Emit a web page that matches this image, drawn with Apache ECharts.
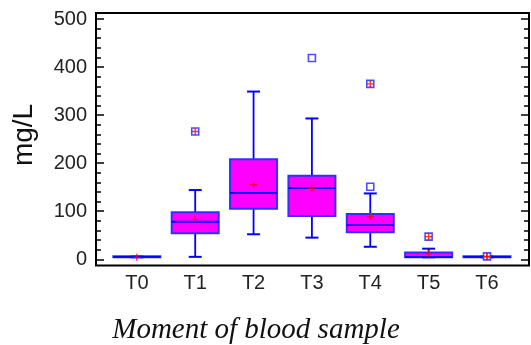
<!DOCTYPE html>
<html>
<head>
<meta charset="utf-8">
<script src="https://cdn.jsdelivr.net/npm/echarts@6/dist/echarts.min.js"></script>
<style>
  html, body { margin: 0; padding: 0; background: #fff; }
  #chart { width: 531px; height: 345px; }
</style>
</head>
<body>
<div id="chart"></div>
<script>
// box-and-whisker values (mg/L)
const categories = ["T0", "T1", "T2", "T3", "T4", "T5", "T6"];
const whiskerLow = [4, 5, 52, 45, 26, 4, 4];
const q1 = [4, 54, 105, 90, 56, 4, 4];
const median = [5, 78, 138, 148, 71, 5, 5];
const q3 = [6, 98, 208, 174, 94, 14, 6];
const whiskerHigh = [6, 144, 349, 293, 137, 22, 6];
const means = [4, 83, 155, 147, 89, 12, 5];

// outliers: category index, value, far outside (plus inside square)
const outlierCat = [1, 3, 4, 4, 5, 6];
const outlierVal = [266, 419, 365, 151, 47, 6];
const outlierFar = [true, false, true, false, true, true];

const yMajorTicks = [0, 100, 200, 300, 400, 500];
const yMinorTicks = [0, 20, 40, 60, 80, 100, 120, 140, 160, 180, 200, 220, 240, 260, 280,
  300, 320, 340, 360, 380, 400, 420, 440, 460, 480, 500];

const BLUE = "#0000ff";
const PLUS = "path://M4,0H6V4H10V6H6V10H4V6H0V4H4Z";

const chart = echarts.init(document.getElementById("chart"));

function yAxisCfg(pos, ticks, len, labels) {
  return {
    type: "value",
    position: pos,
    min: -13,
    max: 512.5,
    axisLine: { show: false, onZero: false },
    splitLine: { show: false },
    axisTick: {
      show: true, inside: true, length: len, customValues: ticks,
      lineStyle: { color: "#000", width: 1.5 }
    },
    axisLabel: labels
      ? { show: true, customValues: yMajorTicks, margin: 9, color: "#222",
          fontFamily: "Liberation Sans", fontSize: 20 }
      : { show: false }
  };
}

const boxData = categories.map((c, i) => [i, whiskerLow[i], q1[i], median[i], q3[i], whiskerHigh[i]]);

function renderBox(params, api) {
  const i = api.value(0);
  const half = 23.5, cap = 6.5;
  const pLow = api.coord([i, api.value(1)]);
  const pQ1 = api.coord([i, api.value(2)]);
  const pMed = api.coord([i, api.value(3)]);
  const pQ3 = api.coord([i, api.value(4)]);
  const pHigh = api.coord([i, api.value(5)]);
  const x = pMed[0];
  const line = { stroke: BLUE, lineWidth: 1.8 };
  const capStyle = { stroke: BLUE, lineWidth: 2 };
  return {
    type: "group",
    children: [
      { type: "line", shape: { x1: x, y1: pLow[1], x2: x, y2: pQ1[1] }, style: line },
      { type: "line", shape: { x1: x, y1: pQ3[1], x2: x, y2: pHigh[1] }, style: line },
      { type: "line", shape: { x1: x - cap, y1: pLow[1], x2: x + cap, y2: pLow[1] }, style: capStyle },
      { type: "line", shape: { x1: x - cap, y1: pHigh[1], x2: x + cap, y2: pHigh[1] }, style: capStyle },
      {
        type: "rect",
        shape: { x: x - half, y: pQ3[1], width: half * 2, height: Math.max(pQ1[1] - pQ3[1], 1) },
        style: { fill: "#ff00ff", stroke: "#3030ff", lineWidth: 2 }
      },
      { type: "line", shape: { x1: x - half, y1: pMed[1], x2: x + half, y2: pMed[1] }, style: { stroke: BLUE, lineWidth: 1.8 } }
    ]
  };
}

const option = {
  animation: false,
  backgroundColor: "#fff",
  grid: {
    left: 96, top: 13, right: 2, bottom: 79.5,
    show: true, borderColor: "#000", borderWidth: 2, backgroundColor: "transparent"
  },
  xAxis: {
    type: "value",
    min: -0.7,
    max: 6.72,
    axisLine: { show: false, onZero: false },
    axisTick: { show: false },
    splitLine: { show: false },
    axisLabel: {
      customValues: [0, 1, 2, 3, 4, 5, 6],
      formatter: (v) => categories[v],
      margin: 8, color: "#222", fontFamily: "Liberation Sans", fontSize: 20
    }
  },
  yAxis: [
    yAxisCfg("left", yMajorTicks, 8, true),
    yAxisCfg("left", yMinorTicks, 5, false),
    yAxisCfg("right", yMajorTicks, 8, false),
    yAxisCfg("right", yMinorTicks, 5, false)
  ],
  graphic: [
    {
      type: "text", x: 24, y: 135, rotation: Math.PI / 2,
      style: { text: "mg/L", font: "28px 'Liberation Sans'", fill: "#111",
        textAlign: "center", textVerticalAlign: "middle" }
    },
    {
      type: "text", x: 256, y: 330,
      style: { text: "Moment of blood sample", font: "italic 29px 'Liberation Serif'", fill: "#111",
        textAlign: "center", textVerticalAlign: "middle" }
    }
  ],
  series: [
    {
      type: "custom",
      renderItem: renderBox,
      data: boxData,
      encode: { x: 0, y: [1, 2, 3, 4, 5] },
      z: 2
    },
    {
      type: "scatter",
      data: outlierCat.map((c, i) => [c, outlierVal[i]]),
      symbol: "rect",
      symbolSize: 7,
      itemStyle: { color: "#fff", borderColor: "#2020ff", borderWidth: 1.6 },
      z: 3
    },
    {
      type: "scatter",
      data: means.map((m, i) => [i, m]).concat(
        outlierCat.map((c, i) => [c, outlierVal[i]]).filter((d, i) => outlierFar[i])
      ),
      symbol: PLUS,
      symbolSize: 7,
      itemStyle: { color: "#ff0000" },
      z: 4
    }
  ]
};

chart.setOption(option);
</script>
</body>
</html>
